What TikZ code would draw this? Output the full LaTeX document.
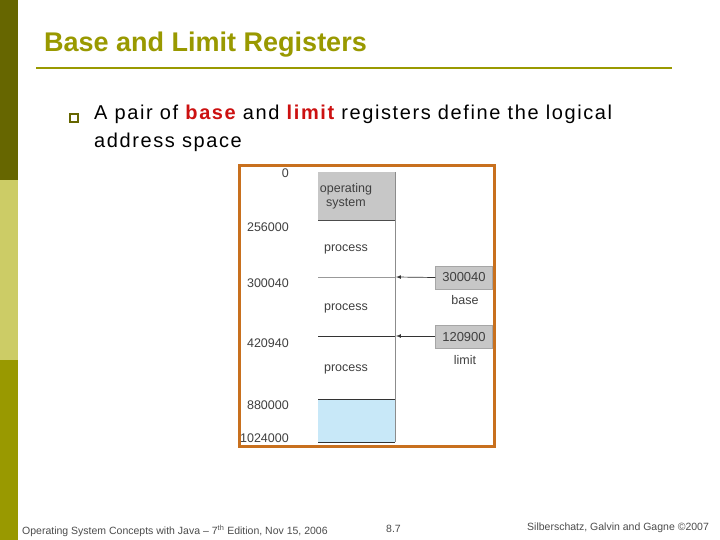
\documentclass[tikz,border=0pt]{standalone}
\usepackage{fontspec}
\setmainfont{Liberation Sans}
\newfontfamily\spaced[LetterSpace=8]{Liberation Sans}
\begin{document}
\begin{tikzpicture}[x=1pt,y=-1pt,
  lab/.style={font=\fontsize{12.5}{14}\selectfont,text=black!75,inner sep=0pt},
  reg/.style={fill=black!22,draw=black!35,minimum width=57pt,minimum height=23pt,inner sep=0pt,font=\fontsize{13}{14}\selectfont,text=black!75},
  foot/.style={font=\fontsize{10.5}{12}\selectfont,text=black!70,inner sep=0pt,anchor=west}]
\definecolor{olive1}{HTML}{666600}
\definecolor{olive2}{HTML}{CCCC66}
\definecolor{olive3}{HTML}{999900}
\definecolor{titlec}{HTML}{999900}
\definecolor{frame}{HTML}{C8701E}
\definecolor{membl}{HTML}{C8E8F8}
\definecolor{redw}{HTML}{CC1111}
\useasboundingbox (0,0) rectangle (720,540);
\fill[white] (0,0) rectangle (720,540);
\fill[olive1] (0,0) rectangle (18,180);
\fill[olive2] (0,180) rectangle (18,360);
\fill[olive3] (0,360) rectangle (18,540);
\node[anchor=west,inner sep=0pt,font=\fontsize{27}{30}\selectfont\bfseries,text=titlec] (title) at (44,45) {Base and Limit Registers};
\draw[titlec,line width=2.5pt] (36,68) -- (672,68);
\node[draw=olive1,line width=1.2pt,minimum size=8pt,inner sep=0pt] (bul) at (74,118) {};
\node[anchor=north west,inner sep=0pt,align=left,font=\spaced\fontsize{20}{28}\selectfont] (txt) at (94,105)
  {A pair of \textcolor{redw}{\bfseries base} and \textcolor{redw}{\bfseries limit} registers define the logical\\address space};
% frame
\draw[frame,line width=3pt] (239,166) rectangle (494,446);
% memory
\fill[black!22] (318,172) rectangle (395,220);
\fill[membl] (318,399) rectangle (395,442);
\draw[black!45,line width=0.6pt] (395,172) -- (395,442);
\draw[black!70,line width=0.8pt] (318,220) -- (395,220);
\draw[black!40,line width=0.6pt] (318,277) -- (395,277);
\draw[black!80,line width=0.8pt] (318,336) -- (395,336);
\draw[black!80,line width=0.8pt] (318,399) -- (395,399);
\draw[black!80,line width=1pt] (318,442) -- (395,442);
\node[lab,align=center] (os) at (346,196) {operating\\system};
\node[lab] (p1) at (346,249) {process};
\node[lab] (p2) at (346,308) {process};
\node[lab] (p3) at (346,369) {process};
\node[lab,anchor=east] (a0) at (289,173) {0};
\node[lab,anchor=east] (a1) at (289,227) {256000};
\node[lab,anchor=east] (a2) at (289,283) {300040};
\node[lab,anchor=east] (a3) at (289,343) {420940};
\node[lab,anchor=east] (a4) at (289,405) {880000};
\node[lab,anchor=east] (a5) at (289,438) {1024000};
\node[reg] (base) at (464,277.5) {300040};
\node[reg] (lim) at (464,337) {120900};
\node[lab] (bl) at (465,300) {base};
\node[lab] (ll) at (465,360) {limit};
\coordinate (t1) at (396,277);
\coordinate (t2) at (396,336);
\draw[-latex,black!80,line width=0.7pt] (base.west) -- (t1);
\draw[-latex,black!80,line width=0.7pt] (lim.west|-t2) -- (t2);
% footer
\node[foot] (f1) at (22,531) {Operating System Concepts with Java -- 7\textsuperscript{th} Edition, Nov 15, 2006};
\node[foot] (f2) at (386,529) {8.7};
\node[foot] (f3) at (527,528) {Silberschatz, Galvin and Gagne \textcopyright 2007};
\end{tikzpicture}
\end{document}
